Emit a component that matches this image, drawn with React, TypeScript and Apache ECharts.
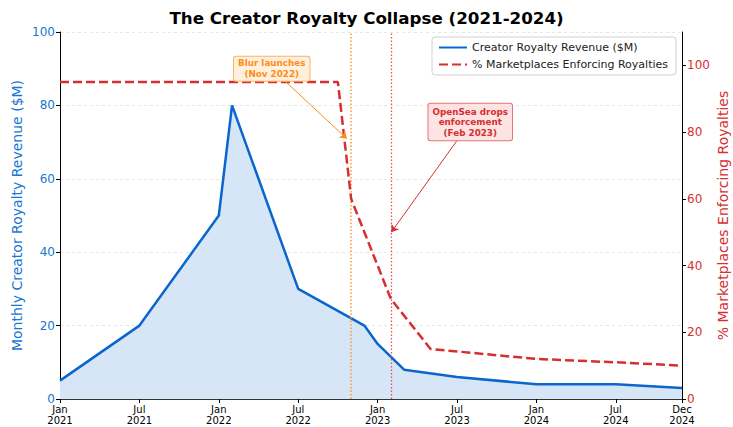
import React, { useEffect, useRef } from "react";
import * as echarts from "echarts";

const revenueDates = ["2021-01-01", "2021-07-01", "2022-01-01", "2022-02-01", "2022-07-01", "2022-12-01", "2023-01-01", "2023-03-01", "2023-07-01", "2024-01-01", "2024-07-01", "2024-12-01"];
const revenueValues = [5, 20, 50, 80, 30, 20, 15, 8, 6, 4, 4, 3];

const enforceDates = ["2021-01-01", "2022-10-01", "2022-11-01", "2023-02-01", "2023-05-01", "2024-01-01", "2024-07-01", "2024-12-01"];
const enforceValues = [95, 95, 60, 30, 15, 12, 11, 10];

const xStart = "2021-01-01";
const xEnd = "2024-12-01";
const monthNames = ["Jan", "Feb", "Mar", "Apr", "May", "Jun", "Jul", "Aug", "Sep", "Oct", "Nov", "Dec"];

const blurEvent = { date: "2022-11-01", label: "Blur launches\n(Nov 2022)", textAt: ["2022-05-01", 99], tip: ["2022-10-22", 78] };
const openSeaEvent = { date: "2023-02-01", label: "OpenSea drops\nenforcement\n(Feb 2023)", textAt: ["2023-08-01", 83], tip: ["2023-02-02", 50] };

// month index since Jan 2021 (fractional by day)
const toM = (s: string) => {
  const [y, m, d] = s.split("-").map(Number);
  const dim = new Date(y, m, 0).getDate();
  return (y - 2021) * 12 + (m - 1) + (d - 1) / dim;
};

const FONT = "DejaVu Sans";
const BLUE = "#0a66cc";
const BLUE_TXT = "#1976d2";
const RED = "#d62f2f";
const ORANGE = "#ff8c1a";

export default function App() {
  const ref = useRef<HTMLDivElement>(null);
  useEffect(() => {
    if (!ref.current) return;
    const chart = echarts.init(ref.current, undefined, { renderer: "svg" });
    const option: any = {
      animation: false,
      textStyle: { fontFamily: FONT },
      title: {
        text: "The Creator Royalty Collapse (2021-2024)",
        left: "center",
        top: 4,
        textStyle: { fontFamily: FONT, fontSize: 16.7, fontWeight: "bold", color: "#000" },
      },
      legend: {
        orient: "vertical",
        right: 57,
        top: 37,
        padding: [5, 8, 5, 6],
        itemGap: 6,
        itemWidth: 28,
        itemHeight: 10,
        backgroundColor: "#fff",
        borderColor: "#d0d0d0",
        borderWidth: 1,
        borderRadius: 3,
        itemStyle: { opacity: 0, color: "rgba(0,0,0,0)", borderWidth: 0 },
        textStyle: { fontFamily: FONT, fontSize: 11, color: "#222" },
        data: ["Creator Royalty Revenue ($M)", "% Marketplaces Enforcing Royalties"],
      },
      grid: { left: 60, right: 51, top: 32, bottom: 28, containLabel: false, outerBoundsMode: "none" },
      xAxis: {
        type: "value",
        min: toM(xStart),
        max: toM(xEnd),
        interval: 6,
        axisLine: { show: true, onZero: false, lineStyle: { color: "#333", width: 1 } },
        axisTick: { show: true, length: 4, lineStyle: { color: "#000" } },
        axisLabel: {
          fontFamily: FONT,
          fontSize: 10,
          lineHeight: 11,
          color: "#000",
          margin: 5,
          showMaxLabel: true,
          showMinLabel: true,
          formatter: (v: number) => {
            const idx = Math.round(v);
            return monthNames[idx % 12] + "\n" + (2021 + Math.floor(idx / 12));
          },
        },
        splitLine: { show: false },
      },
      yAxis: [
        {
          type: "value",
          min: 0,
          max: 100,
          interval: 20,
          name: "Monthly Creator Royalty Revenue ($M)",
          nameLocation: "middle",
          nameGap: 36,
          nameMoveOverlap: false,
          nameTextStyle: { fontFamily: FONT, fontSize: 14, color: BLUE_TXT },
          axisLine: { show: true, lineStyle: { color: "#000" } },
          axisTick: { show: true, length: 4, lineStyle: { color: "#000" } },
          axisLabel: { fontFamily: FONT, fontSize: 12, color: BLUE_TXT, margin: 5 },
          splitLine: { show: true, lineStyle: { color: "#e6e6e6", type: [3, 3], width: 1 } },
        },
        {
          type: "value",
          min: 0,
          max: 110,
          interval: 20,
          position: "right",
          name: "% Marketplaces Enforcing Royalties",
          nameLocation: "middle",
          nameGap: 34,
          nameMoveOverlap: false,
          nameRotate: 90,
          nameTextStyle: { fontFamily: FONT, fontSize: 14, color: RED },
          axisLine: { show: true, lineStyle: { color: "#000" } },
          axisTick: { show: true, length: 4, lineStyle: { color: "#000" } },
          axisLabel: { fontFamily: FONT, fontSize: 12, color: RED, margin: 5, showMaxLabel: false },
          splitLine: { show: false },
        },
      ],
      series: [
        {
          name: "Creator Royalty Revenue ($M)",
          type: "line",
          yAxisIndex: 0,
          symbol: "none",
          data: revenueDates.map((d, i) => [toM(d), revenueValues[i]]),
          lineStyle: { color: BLUE, width: 2.5 },
          itemStyle: { color: BLUE },
          areaStyle: { color: "#d6e6f6", opacity: 1 },
          z: 2,
          markLine: {
            silent: true,
            symbol: ["none", "none"],
            label: { show: false },
            z: 3,
            lineStyle: { color: "#ff9933", opacity: 1, type: [1.5, 2], width: 1.5 },
            data: [
              { xAxis: toM(blurEvent.date), lineStyle: { color: "#ff9933", opacity: 1, type: [1.5, 2], width: 1.5 } },
              { xAxis: toM(openSeaEvent.date), lineStyle: { color: "#e85050", opacity: 1, type: [1.5, 2], width: 1.3 } },
            ],
          },
        },
        {
          name: "% Marketplaces Enforcing Royalties",
          type: "line",
          yAxisIndex: 1,
          symbol: "none",
          data: enforceDates.map((d, i) => [toM(d), enforceValues[i]]),
          lineStyle: { color: RED, width: 2.5, type: [9, 4] },
          itemStyle: { color: RED },
          z: 3,
          markLine: {
            silent: true,
            symbol: ["none", "arrow"],
            symbolSize: 7,
            label: { show: false },
            z: 4,
            data: [
              [
                { coord: [toM(blurEvent.textAt[0] as string), blurEvent.textAt[1]], symbol: "none" },
                { coord: [toM(blurEvent.tip[0] as string), blurEvent.tip[1]], symbol: "arrow", lineStyle: { color: ORANGE, width: 1, type: "solid" } },
              ],
              [
                { coord: [toM(openSeaEvent.textAt[0] as string), openSeaEvent.textAt[1]], symbol: "none" },
                { coord: [toM(openSeaEvent.tip[0] as string), openSeaEvent.tip[1]], symbol: "arrow", lineStyle: { color: RED, width: 1, type: "solid" } },
              ],
            ],
          },
          markPoint: {
            silent: true,
            z: 20,
            symbol: "rect",
            symbolSize: 0,
            data: [
              {
                coord: [toM(blurEvent.textAt[0] as string), blurEvent.textAt[1]],
                label: {
                  show: true,
                  position: "inside",
                  formatter: blurEvent.label,
                  fontFamily: FONT,
                  fontSize: 8.8,
                  fontWeight: "bold",
                  lineHeight: 10.5,
                  color: ORANGE,
                  align: "center",
                  backgroundColor: "#fff0de",
                  borderColor: "#ffb266",
                  borderWidth: 1,
                  borderRadius: 2,
                  padding: [2, 4, 1, 4],
                },
              },
              {
                coord: [toM(openSeaEvent.textAt[0] as string), openSeaEvent.textAt[1]],
                label: {
                  show: true,
                  position: "inside",
                  formatter: openSeaEvent.label,
                  fontFamily: FONT,
                  fontSize: 8.8,
                  fontWeight: "bold",
                  lineHeight: 10.5,
                  color: RED,
                  align: "center",
                  backgroundColor: "#fde3e3",
                  borderColor: "#e57373",
                  borderWidth: 1,
                  borderRadius: 2,
                  padding: [3, 4, 2, 4],
                },
              },
            ],
          },
        },
      ],
    };
    chart.setOption(option);
    return () => chart.dispose();
  }, []);
  return <div ref={ref} style={{ position: "fixed", left: 0, top: 0, width: 733, height: 427, background: "#fff" }} />;
}
